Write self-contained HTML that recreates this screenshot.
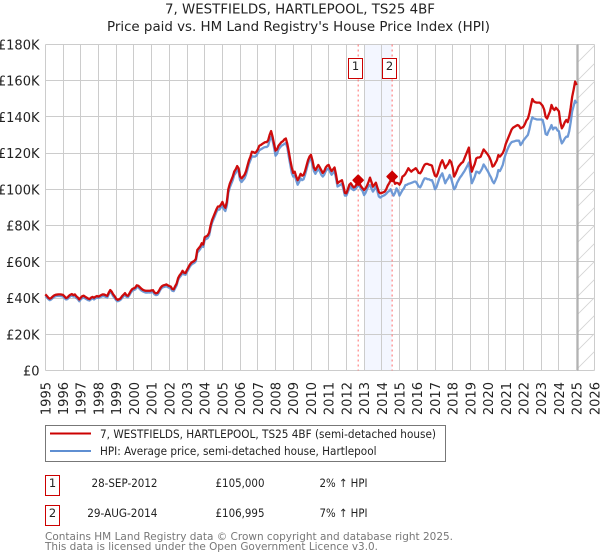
<!DOCTYPE html>
<html>
<head>
<meta charset="utf-8">
<style>
html,body{margin:0;padding:0;background:#fff;}
svg{display:block;font-family:"DejaVu Sans","Liberation Sans",sans-serif;}
</style>
</head>
<body>
<svg id="chart" xmlns="http://www.w3.org/2000/svg" width="600" height="560" viewBox="0 0 600 560">
  <text x="300" y="13.5" text-anchor="middle" font-size="13" fill="#222" textLength="270" lengthAdjust="spacingAndGlyphs">7, WESTFIELDS, HARTLEPOOL, TS25 4BF</text>
  <text x="298.5" y="31" text-anchor="middle" font-size="13" fill="#222" textLength="383" lengthAdjust="spacingAndGlyphs">Price paid vs. HM Land Registry's House Price Index (HPI)</text>
  <g id="plot"></g>

  <rect x="45.5" y="425.5" width="400" height="36" fill="#fff" stroke="#777"/>
  <line x1="50" y1="433.5" x2="91" y2="433.5" stroke="#cc0000" stroke-width="2"/>
  <text x="100" y="438" font-size="11.5" fill="#222" textLength="336" lengthAdjust="spacingAndGlyphs">7, WESTFIELDS, HARTLEPOOL, TS25 4BF (semi-detached house)</text>
  <line x1="50" y1="451" x2="91" y2="451" stroke="#5f8fd2" stroke-width="2"/>
  <text x="100" y="455" font-size="11.5" fill="#222" textLength="276.5" lengthAdjust="spacingAndGlyphs">HPI: Average price, semi-detached house, Hartlepool</text>

  <g font-size="11.5" fill="#222">
    <rect x="45.5" y="475.5" width="14" height="20" fill="#fff" stroke="#cc0000"/>
    <text x="52.5" y="487" text-anchor="middle">1</text>
    <text x="91.5" y="487" textLength="66" lengthAdjust="spacingAndGlyphs">28-SEP-2012</text>
    <text x="215.5" y="487" textLength="49" lengthAdjust="spacingAndGlyphs">£105,000</text>
    <text x="319.5" y="487" textLength="48" lengthAdjust="spacingAndGlyphs">2% ↑ HPI</text>
  </g>
  <g font-size="11.5" fill="#222">
    <rect x="45.5" y="505.5" width="14" height="20" fill="#fff" stroke="#cc0000"/>
    <text x="52.5" y="517" text-anchor="middle">2</text>
    <text x="87.2" y="517" textLength="70.3" lengthAdjust="spacingAndGlyphs">29-AUG-2014</text>
    <text x="215.5" y="517" textLength="49" lengthAdjust="spacingAndGlyphs">£106,995</text>
    <text x="319.5" y="517" textLength="48" lengthAdjust="spacingAndGlyphs">7% ↑ HPI</text>
  </g>
  <text x="45" y="540" font-size="11" fill="#777" textLength="408" lengthAdjust="spacingAndGlyphs">Contains HM Land Registry data © Crown copyright and database right 2025.</text>
  <text x="45" y="550" font-size="11" fill="#777" textLength="333" lengthAdjust="spacingAndGlyphs">This data is licensed under the Open Government Licence v3.0.</text>
</svg>
<script>
var yearTicks = [1995,1996,1997,1998,1999,2000,2001,2002,2003,2004,2005,2006,2007,2008,2009,2010,2011,2012,2013,2014,2015,2016,2017,2018,2019,2020,2021,2022,2023,2024,2025,2026];
var valueTicks = [0,20,40,60,80,100,120,140,160,180];
var valueTickLabels = ["£0","£20K","£40K","£60K","£80K","£100K","£120K","£140K","£160K","£180K"];
var startYear = 1995;
var pricePaid = [
42,41.2,40.2,39.6,40,40.8,41.4,41.8,41.9,42,42,41.9,
41.7,40.9,40,40.3,41.2,41.8,42.2,41.6,42,41,40.3,39.2,
40.2,41,41.3,40.7,40.2,39.7,39.4,40.2,40.6,40.1,40.7,41.1,
40.8,41.2,41.7,42,41.9,41.5,41.2,43,44.4,43.5,42,41,
39.6,39,39.3,39.8,41,41.8,42.7,41.5,41.2,42.5,44,45,
45.3,45.8,47,46.8,46,45.2,44.6,44.2,44,44,44,44,
44.2,44.3,43,42.6,42.8,44,45.5,46.5,47,47.2,47.5,47,
46.6,46.3,45,44.8,46.5,48,51,52.5,53.5,55,54,53.8,
55.5,57,58.5,59.5,60,60.5,61.5,66.5,67.5,68.5,70.2,69.5,
73.5,74,74.5,76,80,83,85,87,89,90.5,90.5,91.5,
93,91,89.8,93,100,103,105,107,109.7,111,112.8,111.5,
107,106,107,108,110,113,116,118,120.7,120.5,120,120.7,
122,124,124.4,125,125.5,126,126,127,130,132.1,129,125,
121.3,122,124,125,126,126.5,127.5,128,125,120.7,116,112,
109,109.7,107,105,106.5,108.5,107.5,107.9,110,113,116,118,
119,116,112,110.6,112,113.4,112,110.5,109,110,112,113,
113.4,111.5,110,111,112,108,103.3,104,104.5,105,102,98,
97.8,100,102.5,103.3,102,101,101.5,103,104.8,103,101.5,100.5,
99.6,100.5,102,104,106.4,104,101.4,102.5,103.6,101,98.5,97.8,
98,98.3,98.7,100,102,103.3,105,107,105,103,103.5,103.3,
102.5,104,107,107.5,108.5,110,111.6,110.5,109.7,110.5,111,111.6,
110.5,109,108.8,110,112,113.5,114,114,113.6,113.4,113,110,
107.5,107,109,112,114.5,116,114,111.6,113,114,116,115,
112,107,108.5,110.5,112.5,113.5,114.5,115,117,119,121,123,
115,109.7,112,114,117,117.5,117.5,118,120,122,121,120,
118.9,117.5,115.5,112.5,113,114.5,116,118.9,118,118.9,120,122,
125,127,129,131,133,134,134.5,135,135.4,135,133.6,134,
134.5,136,138,139,142,146,149.8,148.5,148,147.8,147.8,147.8,
147,146,144,140,139,141,143,146.5,144.5,143.7,145,144,
143,137,133.6,135,137,138.2,137,140,145,151,155,159.4,
157.5];
var hpiIndex = [
41,40.5,39.4,38.8,39.2,40,40.6,41,41.1,41.2,41.1,41,
40.8,40,39.2,39.4,40.3,41,41.3,40.8,41,40,39.4,38.2,
39.2,40,40.4,39.8,39.3,38.8,38.6,39.3,39.8,39.2,39.8,40.2,
40,40.4,40.8,41.1,41,40.6,40.3,42,43.4,42.6,41,40,
38.8,38.2,38.5,39,40,40.9,41.8,40.6,40.4,41.6,43,44,
44.4,44.8,46,45.8,45,44.2,43.7,43.3,43,43,43.1,43,
43.2,43.3,42,41.6,41.8,43,44.6,45.6,46,46.2,46.5,46,
45.6,45.2,44,43.8,45.4,47,50,51.4,52.4,53.9,53,52.8,
54.4,55.8,57.4,58.4,59,59.4,60.3,65,66,67,68.8,68.2,
72,72.6,73,74.5,78.5,81.5,83.5,85.5,87.5,88.8,88.8,90,
91,89,88,91,98,101,103,105,107.8,109,110.8,109.5,
105,104,105,106,108,111,114,116,118.3,118,118,118.5,
120,121.5,122,122.5,123,123.3,123.3,124,127,129,127,123,
118.5,119.5,122,123,124,124.5,125,125.5,123,118,113.5,109,
107,107.5,105,102.5,104,106,105,105.5,108,111,114,116.5,
117,113.5,110,108.5,110,111,110,108,107,108,110,111,
111.5,109.5,108,109,110,106,101.5,102,102.5,103,100,96.5,
96.5,98.5,100.5,101.5,100,99.5,100,101,102.3,101.5,100,99,
96.8,98,100,102,102.3,100.5,98.7,100,101.4,99,96,95.4,
96,96.4,96.8,97.5,98.5,99,100,98,96.5,98,100.5,99,
96.5,98,99.5,100.5,102.3,102.5,103,103.2,103.5,103.8,104.2,104.2,
103,101.5,101,102.5,104.5,106,106,105.5,105.5,105,105,103,
100,101,103.5,106,107.5,108.8,106,103.3,105,106,107.9,106,
103,100,101,103.5,105,106.5,107.5,108.8,110,111.5,113,114.7,
109,103.3,105,107,109.7,109.5,108.8,110,111.5,113.7,112.5,111,
109.7,108,106.5,104.5,103.3,105,107,110.6,110,111.6,113.5,117,
119.5,121.7,123.5,125,126,126.3,126.5,126.8,126.8,126.8,124.4,125.5,
127,128,129,130,133,137,139.7,139,138.8,138.5,138.5,138.5,
138.5,138.2,135,130.5,130,132,133.5,135.4,133,134,134,132.5,
132,128,125.3,126.5,128,129,129,132,137,143,146,148.9,
147.4];
var saleDates = [2012 + 8/12, 2014 + 7/12];
var salePrices = [105, 106.995];
var saleLabels = ["1","2"];
var shadeRange = [2013, 2014.56];
var forecastStart = 2025.07;

var NS = 'http://www.w3.org/2000/svg';
var plot = document.getElementById('plot');
function xAxis(t){ return 45.3 + (t - 1995) * 17.71; }
function yAxis(v){ return 370.5 - v * 1.8125; }
var left = xAxis(1995), right = xAxis(2026), top_ = yAxis(180), bottom = yAxis(0);
function add(tag, attrs, parent){
  var el = document.createElementNS(NS, tag);
  for (var k in attrs) el.setAttribute(k, attrs[k]);
  (parent || plot).appendChild(el);
  return el;
}
function snapX(t){ return Math.floor(xAxis(t) + 0.1) + 0.5; }
function snapY(v){ return Math.floor(yAxis(v)) + 0.5; }

var shade = add('rect', {x: xAxis(shadeRange[0]), y: snapY(180), width: xAxis(shadeRange[1]) - xAxis(shadeRange[0]), height: snapY(0) - snapY(180), fill: '#f3f6ff'});



valueTicks.forEach(function(v, i){
  var g = add('line', {x1: snapX(1995), x2: snapX(2026), y1: snapY(v), y2: snapY(v), stroke: '#ccc', 'stroke-width': 1});
  
  
  var t = add('text', {x: 39.5, y: yAxis(v) + 5, 'text-anchor': 'end', 'font-size': 13, fill: '#222'});
  
  
  t.textContent = valueTickLabels[i];
});
yearTicks.forEach(function(y){
  var g = add('line', {x1: snapX(y), x2: snapX(y), y1: snapY(180), y2: snapY(0), stroke: '#ccc', 'stroke-width': 1});
  
  
  var px = xAxis(y) + 5;
  var t = add('text', {x: px, y: 382, 'text-anchor': 'end', 'font-size': 13, fill: '#222', transform: 'rotate(-90 ' + px + ' 382)'});
  
  
  t.textContent = y;
});

var defs = add('defs', {});
var clip = add('clipPath', {id: 'hatch-clip'}, defs);
add('rect', {x: xAxis(forecastStart), y: top_, width: right - xAxis(forecastStart), height: bottom - top_}, clip);
var hatch = add('g', {'clip-path': 'url(#hatch-clip)', stroke: '#d4d4d4', 'stroke-width': 0.8});


for (var hy = 40; hy < 410; hy += 18) {
  add('line', {x1: 570, y1: hy + 30, x2: 600, y2: hy}, hatch);
}
var cut = add('line', {x1: xAxis(forecastStart), x2: xAxis(forecastStart), y1: snapY(180), y2: snapY(0), stroke: '#aaa', 'stroke-width': 1.5});



function pathFor(series){
  return series.map(function(v, i){
    return (i ? 'L' : 'M') + xAxis(startYear + i / 12).toFixed(2) + ' ' + yAxis(v).toFixed(2);
  }).join('');
}

saleDates.forEach(function(d){
  var l = add('line', {x1: xAxis(d), x2: xAxis(d), y1: snapY(180), y2: snapY(0), stroke: '#ff6b6b', 'stroke-width': 1, 'stroke-dasharray': '2 3'});
  
  
});

var hpiLine = add('path', {d: pathFor(hpiIndex), fill: 'none', stroke: '#5f8fd2', 'stroke-width': 2.3, 'stroke-linejoin': 'round', opacity: 0.9});


var priceLine = add('path', {d: pathFor(pricePaid), fill: 'none', stroke: '#cc0000', 'stroke-width': 2.3, 'stroke-linejoin': 'round', opacity: 0.95});



saleDates.forEach(function(d, i){
  var cx = xAxis(d), cy = yAxis(salePrices[i]), r = 5;
  var m = add('path', {d: 'M' + cx + ' ' + (cy - r) + 'L' + (cx + r) + ' ' + cy + 'L' + cx + ' ' + (cy + r) + 'L' + (cx - r) + ' ' + cy + 'Z', fill: '#cc0000', stroke: '#cc0000', 'stroke-width': 1.6, 'stroke-linejoin': 'round'});
  
  
  var b = add('rect', {x: Math.floor(cx) - 9.5, y: 58.5, width: 14, height: 20, fill: '#fff', stroke: '#cc0000', 'stroke-width': 1});
  
  
  var t = add('text', {x: Math.floor(cx) - 2.5, y: 70, 'text-anchor': 'middle', 'font-size': 11.5, fill: '#222'});
  
  
  t.textContent = saleLabels[i];
});
</script>
</body>
</html>
